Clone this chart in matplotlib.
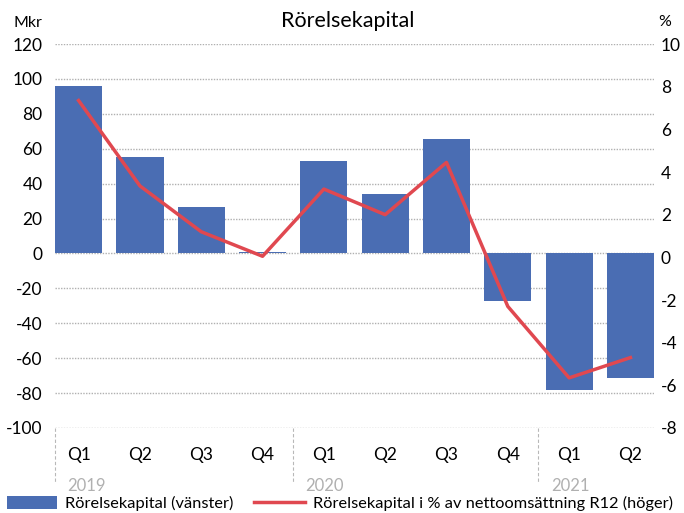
import matplotlib
matplotlib.use('Agg')
import matplotlib.pyplot as plt
import matplotlib.transforms as mtransforms
from matplotlib.patches import Patch
from matplotlib.lines import Line2D

quarters = ['Q1', 'Q2', 'Q3', 'Q4', 'Q1', 'Q2', 'Q3', 'Q4', 'Q1', 'Q2']
years = ['2019', '2020', '2021']
year_start = [0, 4, 8]
kapital = [96, 55.5, 26.5, 1, 53, 34, 65.5, -27.5, -78.5, -71.3]
procent = [7.35, 3.35, 1.2, 0.05, 3.2, 2.0, 4.45, -2.3, -5.65, -4.7]

bar_color = '#4a6db3'
line_color = '#e04850'

plt.rcParams['font.family'] = ['Lato', 'DejaVu Sans']
plt.rcParams['axes.unicode_minus'] = False

fig = plt.figure(figsize=(6.84, 5.13), dpi=100)
ax = fig.add_axes([0.0804, 0.1657, 0.8758, 0.7485])
x = list(range(len(quarters)))
ax.bar(x, kapital, width=0.77, color=bar_color, zorder=2)
ax.set_ylim(-100, 120)
ax.set_yticks(range(-100, 121, 20))
ax.set_xlim(-0.385, len(quarters) - 1 + 0.385)
ax.yaxis.grid(True, color='#b0b0b0', linestyle=(0, (1, 1)), linewidth=1, zorder=0)
for s in ax.spines.values():
    s.set_visible(False)
ax.tick_params(axis='y', length=0, labelsize=12.5, pad=9)
ax.set_xticks(x)
ax.set_xticklabels(quarters)
ax.tick_params(axis='x', length=0, labelsize=12.5, pad=14)

ax2 = ax.twinx()
ax2.plot(x, procent, color=line_color, linewidth=2.5, zorder=3)
ax2.set_ylim(-8, 10)
ax2.set_yticks(range(-8, 11, 2))
for s in ax2.spines.values():
    s.set_visible(False)
ax2.tick_params(axis='y', length=0, labelsize=12.5, pad=5)

# year separators and labels
trans = mtransforms.blended_transform_factory(ax.transData, ax.transAxes)
for xs in [-0.385, 3.5, 7.5]:
    ax.plot([xs, xs], [0, -0.14], transform=trans, clip_on=False,
            color='#b8b8b8', linestyle=(0, (3, 2)), linewidth=0.8)
for yr, st in zip(years, year_start):
    x0 = -0.385 if st == 0 else st - 0.5
    ax.text(x0 + 0.2, -0.152, yr, transform=trans,
            ha='left', va='center', fontsize=12, color='#b0b0b0')

fig.text(0.508, 0.96, 'Rörelsekapital', ha='center', va='center', fontsize=15.5)
fig.text(0.02, 0.955, 'Mkr', ha='left', va='center', fontsize=11.5)
fig.text(0.963, 0.958, '%', ha='left', va='center', fontsize=11.5)

handles = [Patch(facecolor=bar_color), Line2D([0], [0], color=line_color, linewidth=2.5)]
labels = ['Rörelsekapital (vänster)', 'Rörelsekapital i % av nettoomsättning R12 (höger)']
fig.legend(handles, labels, loc='lower left', bbox_to_anchor=(-0.012, -0.025), ncol=2,
           frameon=False, fontsize=11.8, handlelength=3.1, handleheight=0.8,
           columnspacing=1.3, handletextpad=0.45)

fig.savefig('out.png', dpi=100)
